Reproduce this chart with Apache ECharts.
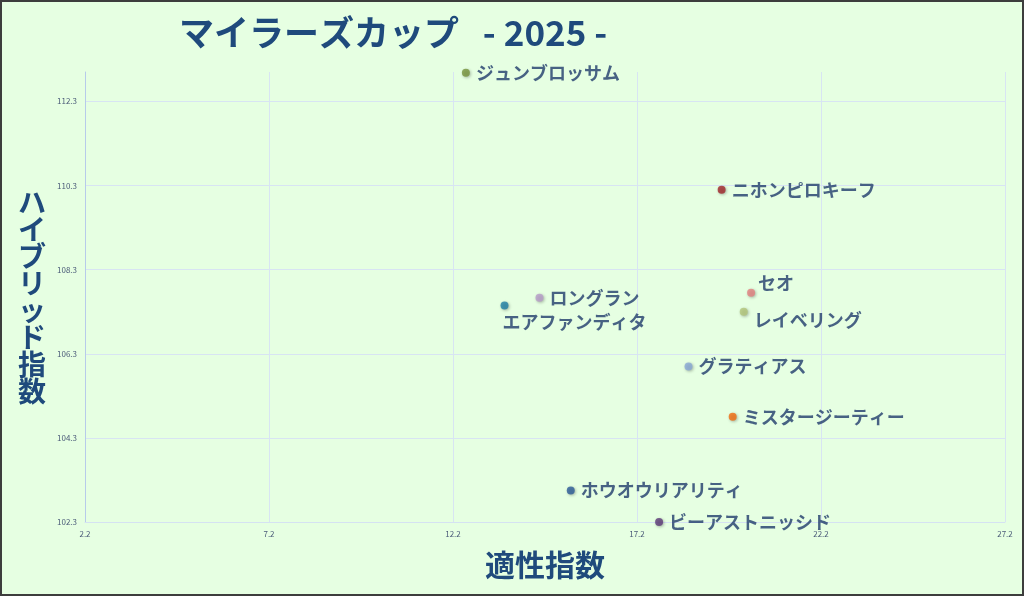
<!DOCTYPE html>
<html>
<head>
<meta charset="utf-8">
<script src="https://cdn.jsdelivr.net/npm/echarts@6/dist/echarts.min.js"></script>
<style>
  html, body { margin: 0; padding: 0; background: #e6ffe2; }
  #main { width: 1024px; height: 596px; }
</style>
</head>
<body>
<div id="main"></div>
<script>
// 馬名・適性指数・ハイブリッド指数
var horses = ['ジュンブロッサム', 'ニホンピロキーフ', 'セオ', 'レイベリング', 'ロングラン',
  'エアファンディタ', 'グラティアス', 'ミスタージーティー', 'ホウオウリアリティ', 'ビーアストニッシド'];
var tekisei = [12.55, 19.5, 20.3, 20.1, 14.55, 13.6, 18.6, 19.8, 15.4, 17.8];
var hybrid = [112.98, 110.2, 107.75, 107.3, 107.63, 107.45, 106.0, 104.8, 103.05, 102.3];
var colors = ['#77933c', '#a1262b', '#e47f80', '#b3c57b', '#b69cc9',
  '#1f7ea5', '#88a8d6', '#f26b0f', '#2c5b98', '#5d3a78'];
var xTicks = ['2.2', '7.2', '12.2', '17.2', '22.2', '27.2'];
var yTicks = ['102.3', '104.3', '106.3', '108.3', '110.3', '112.3'];

// 目盛りを2.2 / 102.3 起点にするため、軸はずらして描く
var xBase = 2.2, yBase = 102.3;

// ラベルの位置調整（重なり回避）
var labelOffsets = {
  'セオ': [-3, -10],
  'レイベリング': [0, 8],
  'エアファンディタ': [-12, 17]
};

var series = horses.map(function (name, i) {
  return {
    name: name,
    type: 'scatter',
    symbolSize: 8,
    itemStyle: {
      color: colors[i],
      shadowBlur: 3,
      shadowColor: 'rgba(0,0,0,0.35)',
      shadowOffsetX: 1,
      shadowOffsetY: 1
    },
    label: {
      show: true,
      position: 'right',
      distance: 6,
      offset: labelOffsets[name] || [0, 0],
      formatter: name,
      color: '#1f3b6b',
      fontSize: 18,
      fontWeight: 'bold',
      fontFamily: 'Noto Sans CJK JP'
    },
    data: [[tekisei[i] - xBase, hybrid[i] - yBase]]
  };
});

var myChart = echarts.init(document.getElementById('main'));
myChart.setOption({
  backgroundColor: '#e6ffe2',
  animation: false,
  textStyle: { fontFamily: 'Noto Sans CJK JP' },
  title: {
    text: '{a|マイラーズカップ}{b|   - 2025 -}',
    left: 174,
    top: 10,
    textStyle: {
      rich: {
        a: { color: '#1f4a7c', fontSize: 35, fontWeight: 'bold', fontFamily: 'Noto Sans CJK JP' },
        b: { color: '#1f4a7c', fontSize: 35, fontWeight: 'bold', fontFamily: 'Noto Sans CJK JP' }
      }
    }
  },
  grid: { left: 85, right: 19, top: 72, bottom: 74 },
  xAxis: {
    type: 'value',
    min: 0,
    max: 25,
    interval: 5,
    name: '適性指数',
    nameLocation: 'middle',
    nameGap: 28,
    nameTextStyle: { color: '#1f4a7c', fontSize: 30, fontWeight: 'bold' },
    axisLine: { show: true, lineStyle: { color: '#d5e2f2' } },
    axisTick: { show: false },
    axisLabel: {
      color: '#4a5a78',
      fontSize: 8,
      margin: 8,
      formatter: function (v) { return xTicks[Math.round(v / 5)]; }
    },
    splitLine: { show: true, lineStyle: { color: '#d8e4f3' } }
  },
  yAxis: {
    type: 'value',
    min: 0,
    max: 10.7,
    interval: 2,
    axisLine: { show: true, lineStyle: { color: '#b7cbea' } },
    axisTick: { show: false },
    axisLabel: {
      color: '#4a5a78',
      fontSize: 8,
      margin: 8,
      showMaxLabel: false,
      formatter: function (v) {
        var t = yTicks[Math.round(v / 2)];
        return Math.abs(v / 2 - Math.round(v / 2)) < 1e-6 ? t : '';
      }
    },
    splitLine: { show: true, showMaxLine: false, lineStyle: { color: '#d8e4f3' } }
  },
  graphic: [
    {
      type: 'text',
      left: 18,
      top: 188,
      style: {
        text: 'ハイブリッド指数'.split('').join('\n'),
        fill: '#1f4a7c',
        font: 'bold 28px "Noto Sans CJK JP"',
        lineHeight: 27,
        align: 'center'
      }
    },
    {
      type: 'rect',
      shape: { x: 0, y: 0, width: 1024, height: 596 },
      style: { fill: 'none', stroke: '#3d3d3d', lineWidth: 4 },
      silent: true
    }
  ],
  series: series
});
</script>
</body>
</html>
